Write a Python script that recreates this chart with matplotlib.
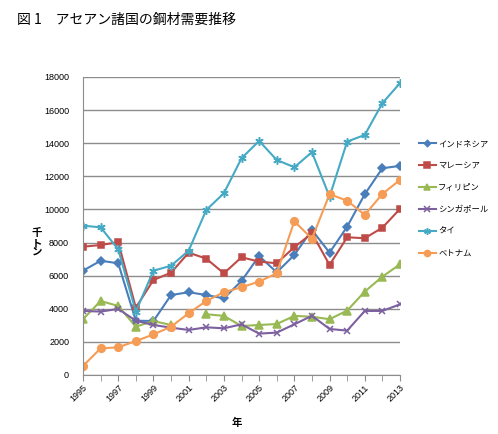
import matplotlib
matplotlib.use("Agg")
import matplotlib.pyplot as plt
import numpy as np

plt.rcParams['font.family'] = ['Liberation Sans', 'Noto Sans CJK JP', 'DejaVu Sans']

years = list(range(1995, 2014))

# 千トン
indonesia = [6300, 6900, 6750, 3280, 3260, 4830, 5000, 4830, 4630, 5680,
             7190, 6200, 7250, 8760, 7390, 8960, 10920, 12490, 12630]
malaysia = [7750, 7850, 8020, 4070, 5740, 6180, 7390, 7030, 6140, 7110,
            6850, 6750, 7720, 8560, 6650, 8320, 8260, 8900, 10030]
philippines = [3370, 4470, 4170, 2920, 3260, 3020, np.nan, 3670, 3570, 2960,
               3020, 3080, 3570, 3520, 3370, 3890, 5040, 5940, 6690]
singapore = [3870, 3830, 3990, 3280, 3020, 2860, 2720, 2880, 2820, 3060,
             2500, 2560, 3060, 3580, 2780, 2680, 3870, 3870, 4270]
thailand = [9020, 8920, 7590, 3830, 6300, 6600, 7510, 9970, 10980, 13090,
            14140, 12990, 12550, 13460, 10770, 14100, 14500, 16420, 17630]
vietnam = [545, 1610, 1670, 2050, 2450, 2920, 3730, 4470, 5000, 5300,
           5640, 6140, 9290, 8230, 10920, 10530, 9670, 10940, 11780]

names = ['インドネシア', 'マレーシア', 'フィリピン', 'シンガポール', 'タイ', 'ベトナム']
series = [indonesia, malaysia, philippines, singapore, thailand, vietnam]
colors = ['#4A7EBB', '#BE4B48', '#98B954', '#7D60A0', '#46AAC5', '#F59D56']
markers = ['D', 's', '^', 'x', (6, 2, 0), 'o']
msizes = [4, 5, 5.5, 5, 6, 5.5]

fig = plt.figure(figsize=(4.98, 4.34), dpi=100)
ax = fig.add_axes([83 / 498, 1 - 375 / 434, (400 - 83) / 498, (375 - 77) / 434])

for vals, name, c, m, ms in zip(series, names, colors, markers, msizes):
    ax.plot(years, vals, color=c, marker=m, markersize=ms, linewidth=1.5,
            markeredgewidth=1.1, label=name)

ax.set_xlim(1995, 2013)
ax.set_ylim(0, 18000)
ax.set_yticks(range(0, 18001, 2000))
ax.set_xticks(range(1995, 2014, 2))
ax.set_xticks(years, minor=True)
ax.yaxis.grid(True, color='#8C8C8C', linewidth=1)
ax.set_axisbelow(True)
for s in ['top', 'right']:
    ax.spines[s].set_visible(False)
ax.spines['left'].set_color('#8C8C8C')
ax.spines['bottom'].set_color('#8C8C8C')
ax.tick_params(axis='y', length=0, labelsize=6.5, pad=10)
ax.tick_params(axis='x', which='both', length=4, color='#8C8C8C', labelsize=6.5, pad=2)
for lbl in ax.get_xticklabels():
    lbl.set_rotation(45)
    lbl.set_ha('right')
    lbl.set_rotation_mode('anchor')

fig.text(37 / 498, 1 - 243 / 434, '千\nト\nン', fontsize=7.5, fontweight='bold',
         ha='center', va='center', linespacing=0.95, family=['Noto Sans CJK JP'])
fig.text(237 / 498, 1 - 423 / 434, '年', fontsize=7.5, fontweight='bold',
         ha='center', va='center', family=['Noto Sans CJK JP'])
fig.text(17 / 498, 1 - 20 / 434, '図 1　アセアン諸国の鋼材需要推移', fontsize=10,
         ha='left', va='center', family=['Noto Sans CJK JP'])

ax.legend(loc='upper left', bbox_to_anchor=(419 / 498, 1 - 139 / 434),
          bbox_transform=fig.transFigure, frameon=False,
          handlelength=2.0, handletextpad=0.3, labelspacing=1.55,
          borderpad=0, borderaxespad=0, markerscale=0.8,
          prop={'family': ['Noto Sans CJK JP'], 'size': 6})

fig.savefig('out.png', dpi=100)
